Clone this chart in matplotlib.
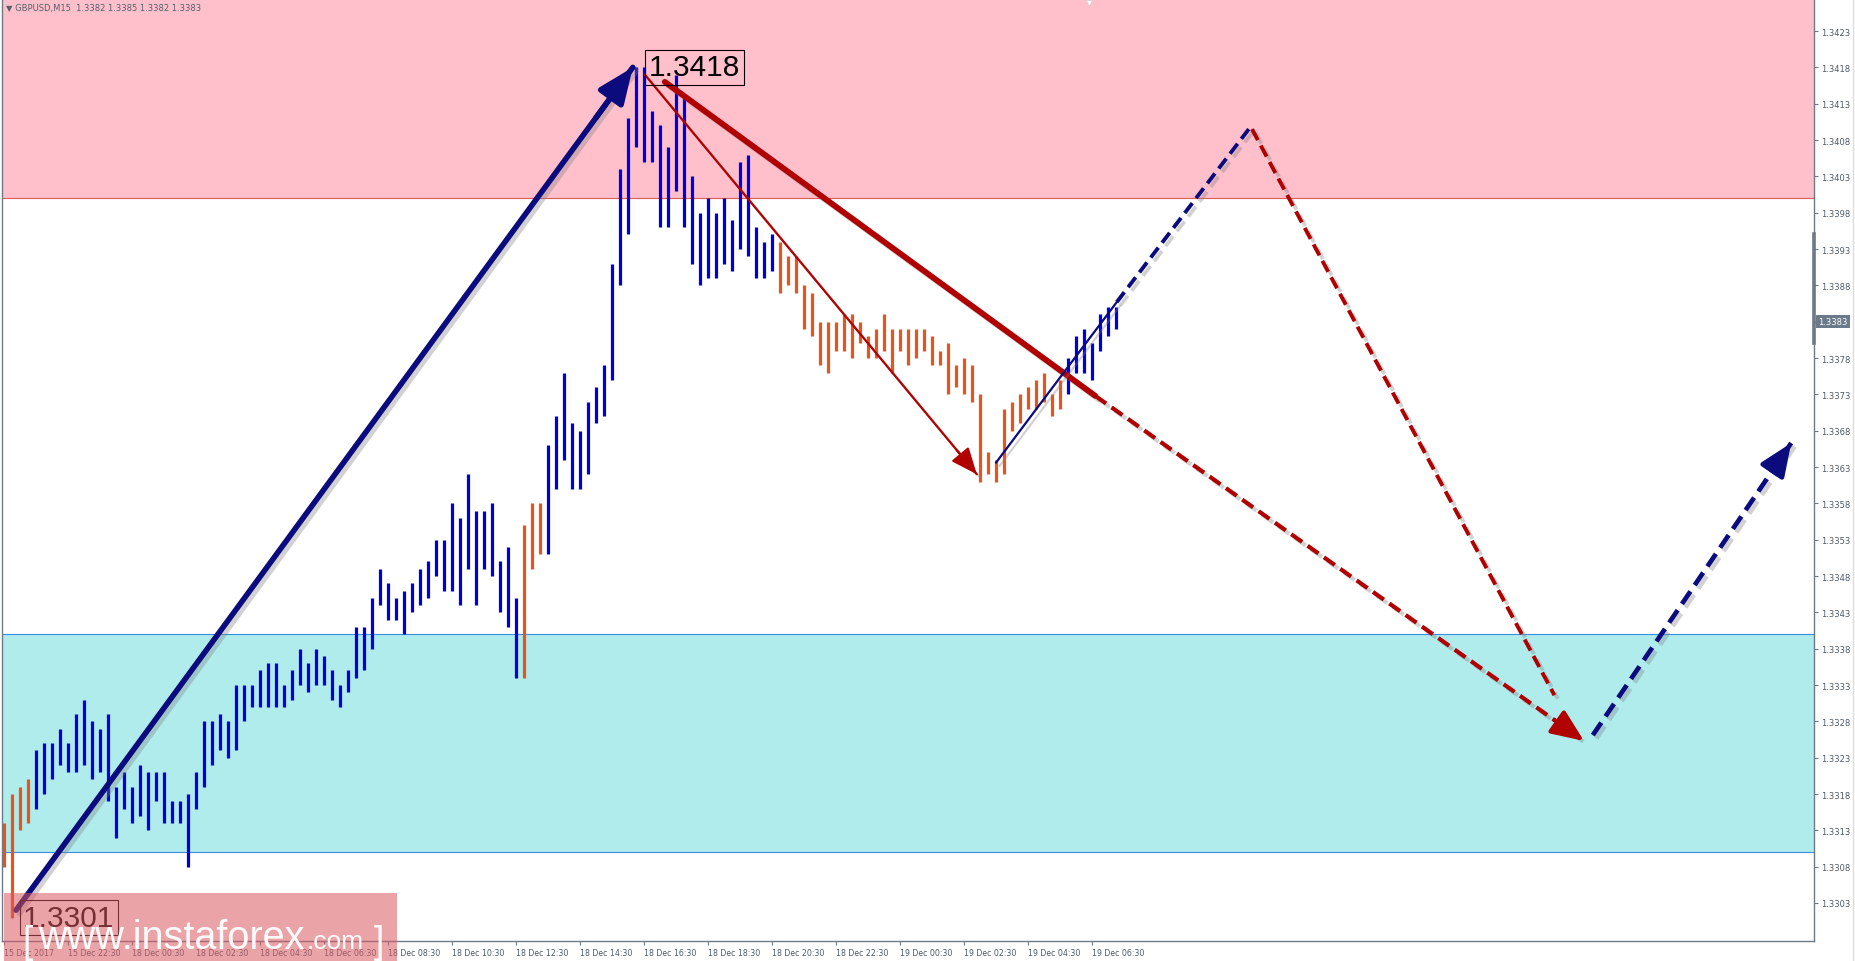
import matplotlib
matplotlib.use("Agg")
import matplotlib.pyplot as plt
from matplotlib import patheffects as pe
from matplotlib.patches import Rectangle
from matplotlib.transforms import blended_transform_factory

# --- GBPUSD M15 bars (high / low) ---
highs = [
    1.3314, 1.3318, 1.3319, 1.3320, 1.3324, 1.3325, 1.3325, 1.3327, 1.3325, 1.3329,
    1.3331, 1.3328, 1.3327, 1.3329, 1.3319, 1.3321, 1.3319, 1.3322, 1.3321, 1.3321,
    1.3321, 1.3317, 1.3317, 1.3318, 1.3321, 1.3328, 1.3328, 1.3329, 1.3328, 1.3333,
    1.3333, 1.3333, 1.3335, 1.3336, 1.3336, 1.3333, 1.3335, 1.3338, 1.3336, 1.3338,
    1.3337, 1.3335, 1.3333, 1.3335, 1.3341, 1.3341, 1.3345, 1.3349, 1.3347, 1.3345,
    1.3346, 1.3347, 1.3349, 1.3350, 1.3353, 1.3353, 1.3358, 1.3356, 1.3362, 1.3357,
    1.3357, 1.3358, 1.3350, 1.3352, 1.3345, 1.3355, 1.3358, 1.3358, 1.3366, 1.3370,
    1.3376, 1.3369, 1.3368, 1.3372, 1.3374, 1.3377, 1.3391, 1.3404, 1.3411, 1.3418,
    1.3418, 1.3412, 1.3410, 1.3407, 1.3417, 1.3414, 1.3403, 1.3398, 1.3400, 1.3398,
    1.3400, 1.3397, 1.3405, 1.3406, 1.3396, 1.3394, 1.3395, 1.3394, 1.3392, 1.3392,
    1.3388, 1.3387, 1.3383, 1.3383, 1.3383, 1.3384, 1.3384, 1.3383, 1.3381, 1.3382,
    1.3384, 1.3382, 1.3382, 1.3382, 1.3382, 1.3382, 1.3381, 1.3379, 1.3380, 1.3377,
    1.3378, 1.3377, 1.3373, 1.3365, 1.3364, 1.3371, 1.3372, 1.3373, 1.3374, 1.3375,
    1.3376, 1.3373, 1.3375, 1.3378, 1.3381, 1.3382, 1.3380, 1.3384, 1.3385, 1.3385,
]
lows = [
    1.3308, 1.3301, 1.3313, 1.3314, 1.3316, 1.3318, 1.3320, 1.3322, 1.3321, 1.3321,
    1.3322, 1.3320, 1.3321, 1.3317, 1.3312, 1.3316, 1.3314, 1.3315, 1.3313, 1.3317,
    1.3314, 1.3314, 1.3314, 1.3308, 1.3316, 1.3319, 1.3322, 1.3324, 1.3323, 1.3324,
    1.3328, 1.3330, 1.3330, 1.3330, 1.3330, 1.3330, 1.3331, 1.3333, 1.3332, 1.3333,
    1.3333, 1.3331, 1.3330, 1.3332, 1.3334, 1.3335, 1.3338, 1.3344, 1.3342, 1.3342,
    1.3340, 1.3343, 1.3344, 1.3345, 1.3348, 1.3346, 1.3346, 1.3344, 1.3349, 1.3344,
    1.3349, 1.3348, 1.3343, 1.3341, 1.3334, 1.3334, 1.3349, 1.3351, 1.3351, 1.3360,
    1.3364, 1.3360, 1.3360, 1.3362, 1.3369, 1.3370, 1.3375, 1.3388, 1.3395, 1.3407,
    1.3405, 1.3405, 1.3396, 1.3396, 1.3401, 1.3396, 1.3391, 1.3388, 1.3389, 1.3389,
    1.3391, 1.3390, 1.3393, 1.3392, 1.3389, 1.3389, 1.3390, 1.3387, 1.3388, 1.3387,
    1.3382, 1.3381, 1.3377, 1.3376, 1.3379, 1.3379, 1.3378, 1.3380, 1.3378, 1.3378,
    1.3379, 1.3376, 1.3379, 1.3377, 1.3378, 1.3379, 1.3377, 1.3377, 1.3373, 1.3374,
    1.3373, 1.3372, 1.3361, 1.3362, 1.3361, 1.3362, 1.3368, 1.3369, 1.3371, 1.3371,
    1.3372, 1.3370, 1.3371, 1.3373, 1.3376, 1.3376, 1.3375, 1.3379, 1.3381, 1.3382,
]
# runs of bars (first, last index) drawn in the "falling" colour
down_runs = [(0, 3), (65, 67), (97, 132)]

time_labels = ["15 Dec 2017", "15 Dec 22:30", "18 Dec 00:30", "18 Dec 02:30",
               "18 Dec 04:30", "18 Dec 06:30", "18 Dec 08:30", "18 Dec 10:30",
               "18 Dec 12:30", "18 Dec 14:30", "18 Dec 16:30", "18 Dec 18:30",
               "18 Dec 20:30", "18 Dec 22:30", "19 Dec 00:30", "19 Dec 02:30",
               "19 Dec 04:30", "19 Dec 06:30"]
bars_per_label = 8

price_ticks = [1.3303 + 0.0005 * k for k in range(25)]
resistance_zone = (1.3400, 1.34273)
support_zone = (1.3310, 1.3340)
day_range = (1.3380, 1.3395)
last_price = 1.3383
header = "\u25bc GBPUSD,M15  1.3382 1.3385 1.3382 1.3383"

# wave markup: (bar index, price) points
wave_up = [(1.5, 1.3302), (78.6, 1.3418)]
wave_down_thin = [(80.1, 1.3417), (121.6, 1.3362)]
wave_down_thick = [(82.6, 1.3416), (136.4, 1.33728)]
wave_down_proj = [(136.4, 1.33728), (197.5, 1.33253)]
wave_up_small = [(124.0, 1.33636), (139.1, 1.33857)]
proj_up = [(139.1, 1.33857), (155.6, 1.34095)]
proj_down = [(156.0, 1.34095), (193.8, 1.33316)]
proj_final = [(198.6, 1.33261), (223.4, 1.33663)]
low_label = (2.4, 1.3301, "1.3301")
high_label = (80.6, 1.3418, "1.3418")

NAVY = "#0b0b7e"
DARKRED = "#b00000"
UP = "#0000dd"
DOWN = "#e8541e"
AXC = "#6c7a89"
TXT = "#4f5a66"

W, H = 1856, 962
fig = plt.figure(figsize=(W / 100, H / 100), dpi=100)
ax = fig.add_axes([2 / W, 20 / H, 1812 / W, 941 / H])
ax.set_xlim(-0.25, 226.25)
ax.set_ylim(1.329777, 1.342727)

ax.axhspan(*resistance_zone, color="#ffc0cb", lw=0, zorder=0)
ax.axhline(resistance_zone[0], color="#e05a5a", lw=0.8, zorder=0.5)
ax.axhspan(*support_zone, color="#b0ecec", lw=0, zorder=0)
for lvl in support_zone:
    ax.axhline(lvl, color="#3a8ee0", lw=0.8, zorder=0.5)

down_idx = set()
for a, b in down_runs:
    down_idx.update(range(a, b + 1))
colors = [DOWN if i in down_idx else UP for i in range(len(highs))]
ax.vlines(range(len(highs)), lows, highs, colors=colors, lw=2.3, zorder=2)

shadow = [pe.SimpleLineShadow(offset=(2.5, -2.5), shadow_color="0.5", alpha=0.35), pe.Normal()]


def seg(pts, color, lw, dashed=False):
    (x0, y0), (x1, y1) = pts
    ls = (0, (3.2, 1.6)) if dashed else "-"
    ax.plot([x0, x1], [y0, y1], color=color, lw=lw, ls=ls, solid_capstyle="round",
            dash_capstyle="butt", path_effects=shadow, zorder=4)


def head(pts, color, lw, size):
    (x0, y0), (x1, y1) = pts
    back = (x1 - (x1 - x0) * 0.06, y1 - (y1 - y0) * 0.06)
    ax.annotate("", xy=(x1, y1), xytext=back,
                arrowprops=dict(arrowstyle="-|>,head_length=0.9,head_width=0.38",
                                color=color, lw=lw, mutation_scale=size,
                                shrinkA=0, shrinkB=0), zorder=5)


seg(wave_up, NAVY, 4.0)
head(wave_up, NAVY, 4.0, 24)
seg(wave_down_thin, DARKRED, 1.6)
head(wave_down_thin, DARKRED, 1.6, 18)
seg(wave_down_thick, DARKRED, 4.2)
seg(wave_down_proj, DARKRED, 3.0, dashed=True)
head(wave_down_proj, DARKRED, 3.0, 22)
seg(wave_up_small, NAVY, 1.6)
seg(proj_up, NAVY, 2.8, dashed=True)
seg(proj_down, DARKRED, 2.8, dashed=True)
seg(proj_final, NAVY, 3.4, dashed=True)
head(proj_final, NAVY, 3.4, 22)

for x, y, s in (low_label, high_label):
    ax.text(x, y, s, fontsize=21.5, family=["Liberation Sans", "DejaVu Sans"], color="black",
            ha="left", va="center", zorder=6,
            bbox=dict(boxstyle="square,pad=0.12", fc="none", ec="black", lw=0.8))

# axes styling
for side in ("left", "bottom", "right"):
    ax.spines[side].set_color(AXC)
    ax.spines[side].set_linewidth(1)
ax.spines["top"].set_visible(False)
ax.yaxis.tick_right()
ax.set_yticks(price_ticks)
ax.set_yticklabels([f"{p:.4f}" for p in price_ticks])
ax.set_xticks([i * bars_per_label for i in range(len(time_labels))])
ax.set_xticklabels(time_labels)
ax.tick_params(axis="both", length=3, width=0.8, color=AXC, labelsize=6, labelcolor=TXT, pad=2)
ax.tick_params(axis="x", labelsize=5.7)
for lbl in ax.get_xticklabels():
    lbl.set_ha("left")

trans = blended_transform_factory(ax.transAxes, ax.transData)
ax.plot([1, 1], day_range, transform=trans, color=AXC, lw=2.6, clip_on=False, zorder=7)
ax.text(1.0025, last_price, f"{last_price:.4f}", transform=trans, fontsize=6, color="white",
        ha="left", va="center", zorder=8,
        bbox=dict(boxstyle="square,pad=0.25", fc="#6b7b8c", ec="none"))

fig.text(6 / W, 1 - 8 / H, header, fontsize=6, color="#555f69", ha="left", va="center")
ax.plot([135.6], [1.34268], marker="v", ms=5, color="white", mec="#cccccc", mew=0.5,
        clip_on=False, zorder=8)
fig.add_artist(plt.Line2D([1853 / W, 1853 / W], [0, 1], color="#dddddd", lw=1))

# watermark
fig.patches.append(Rectangle((4 / W, 0), 393 / W, 68 / H, transform=fig.transFigure,
                             fc=(0.85, 0.35, 0.38), alpha=0.55, ec="none", zorder=10))
wm = dict(color="white", alpha=0.95, zorder=11, va="baseline", ha="left",
          family=["Liberation Sans", "DejaVu Sans"])
renderer = fig.canvas.get_renderer()
xpos = 22
for s, size, dx, base in (("[", 27, 6, 953), ("www.instaforex", 28.5, 2, 949),
                          (".com", 19, 10, 949), ("]", 27, 0, 953)):
    t = fig.text(xpos / W, 1 - base / H, s, fontsize=size, **wm)
    xpos = t.get_window_extent(renderer).x1 + dx

fig.savefig("out.png", dpi=100)
